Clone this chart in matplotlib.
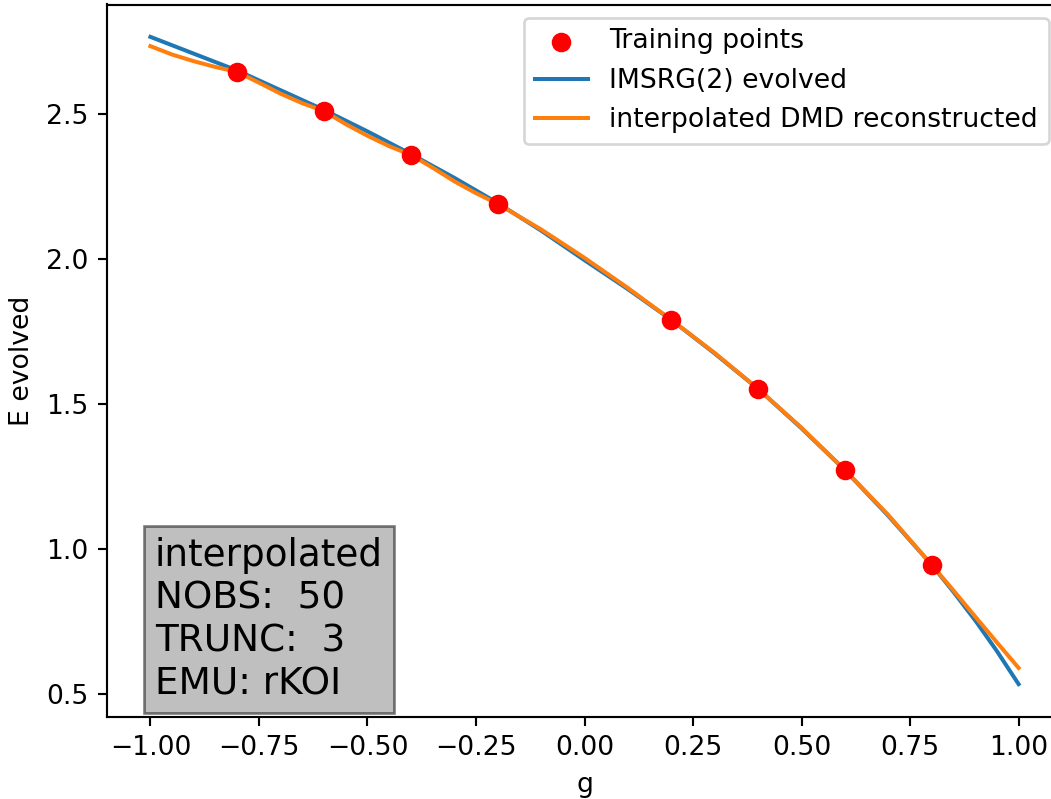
import matplotlib
matplotlib.use('Agg')
import matplotlib.pyplot as plt

# coupling values where the training runs were done
g_train = [-0.8, -0.6, -0.4, -0.2, 0.2, 0.4, 0.6, 0.8]
E_train = [2.645, 2.510, 2.359, 2.190, 1.790, 1.552, 1.272, 0.945]

# IMSRG(2) flow evaluated on a grid of g
g_imsrg = [-1.0, -0.9, -0.8, -0.7, -0.6, -0.5, -0.4, -0.3, -0.2, -0.1, 0.0,
           0.1, 0.2, 0.3, 0.4, 0.5, 0.6, 0.7, 0.8, 0.85, 0.9, 0.95, 1.0]
E_imsrg = [2.766, 2.708, 2.650, 2.582, 2.514, 2.440, 2.362, 2.280, 2.193, 2.098, 1.996,
           1.896, 1.790, 1.674, 1.552, 1.416, 1.272, 1.114, 0.945, 0.852, 0.754, 0.648, 0.534]

# interpolated DMD reconstruction (finer grid on the left where it wiggles)
g_dmd = [-1.0, -0.95, -0.9, -0.85, -0.8, -0.75, -0.7, -0.65, -0.6, -0.55, -0.5,
         -0.45, -0.4, -0.35, -0.3, -0.25, -0.2, -0.1, 0.0, 0.1, 0.2, 0.3, 0.4,
         0.5, 0.6, 0.7, 0.8, 0.85, 0.9, 0.95, 1.0]
E_dmd = [2.734, 2.705, 2.682, 2.662, 2.645, 2.608, 2.570, 2.537, 2.510, 2.465, 2.425,
         2.389, 2.359, 2.315, 2.268, 2.227, 2.190, 2.102, 2.004, 1.900, 1.790, 1.676, 1.552,
         1.418, 1.272, 1.117, 0.945, 0.857, 0.767, 0.678, 0.590]

nobs = 50
trunc = 3
emu = 'rKOI'

dpi = 192
fig = plt.figure(figsize=(1051 / dpi, 799 / dpi), dpi=dpi)
ax = fig.add_axes([107 / 1051, 1 - 716.5 / 799, 955 / 1051, 712 / 799])

ax.scatter(g_train, E_train, color='red', s=40, zorder=3, label='Training points')
ax.plot(g_imsrg, E_imsrg, label='IMSRG(2) evolved')
ax.plot(g_dmd, E_dmd, label='interpolated DMD reconstructed')

ax.set_xlabel('g')
ax.set_ylabel('E evolved')
ax.legend(loc='upper right')

info = 'interpolated\nNOBS:  {}\nTRUNC:  {}\nEMU: {}'.format(nobs, trunc, emu)
ax.text(0.05, 0.02, info, transform=ax.transAxes, fontsize=14,
        ha='left', va='bottom', bbox=dict(facecolor='grey', alpha=0.5))

fig.savefig('out.png', dpi=dpi)
plt.close(fig)
